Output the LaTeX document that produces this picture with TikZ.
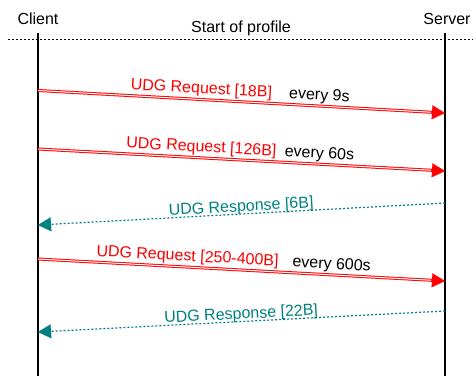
\documentclass[tikz,border=0pt]{standalone}
\usepackage{fontspec}
\setmainfont{Liberation Sans}
\usetikzlibrary{arrows.meta}
\definecolor{reqred}{RGB}{255,0,0}
\definecolor{resteal}{RGB}{0,128,128}
\begin{document}
\begin{tikzpicture}[x=1pt,y=-1pt, font=\fontsize{16}{19}\selectfont,
  life/.style={line width=1.3pt},
  profline/.style={line width=0.8pt, dash pattern=on 2pt off 2pt},
  reqwide/.style={draw=reqred, line width=3pt, -{Triangle[length=13pt,width=14pt,line width=0.1pt]}},
  reqgap/.style={draw=white, line width=1pt, shorten >=14pt, shorten <=0.5pt},
  resp/.style={draw=resteal, line width=1.2pt, dash pattern=on 2pt off 2pt, -{Triangle[length=13pt,width=14pt,line width=0.1pt]}},
  reqlbl/.style={text=reqred, sloped, anchor=base, inner sep=0pt, yshift=6pt},
  everylbl/.style={text=black, sloped, anchor=base, inner sep=0pt, yshift=6pt},
  resplbl/.style={text=resteal, sloped, anchor=base, inner sep=0pt, yshift=2.5pt}]
\useasboundingbox (0,0) rectangle (473,376);
% lifelines
\coordinate (ctop) at (38,33);
\coordinate (cbot) at (38,376);
\coordinate (stop) at (445,33);
\coordinate (sbot) at (445,376);
\coordinate (pl) at (8,39);
\coordinate (pr) at (473,39);
\node (client) at (38,19) {Client};
\node (server) at (447,19) {Server};
\node (start) at (241,28) {Start of profile};
\draw[profline] (pl) -- (pr);
\draw[life] (ctop) -- (cbot);
\draw[life] (stop) -- (sbot);
% message end points
\coordinate (c1) at (38,90.5);  \coordinate (s1) at (445,113);
\coordinate (c2) at (38,149);   \coordinate (s2) at (445,171);
\coordinate (s3) at (445,203);  \coordinate (c3) at (38,225);
\coordinate (c4) at (38,259);   \coordinate (s4) at (445,281);
\coordinate (s5) at (445,311);  \coordinate (c5) at (38,332);
% requests
\draw[reqwide] (c1) -- (s1);
\draw[reqgap] (c1) -- (s1);
\path (c1) -- (s1) node[reqlbl, pos=0.40] {UDG Request [18B]} node[everylbl, pos=0.69] {every 9s};
\draw[reqwide] (c2) -- (s2);
\draw[reqgap] (c2) -- (s2);
\path (c2) -- (s2) node[reqlbl, pos=0.40] {UDG Request [126B]} node[everylbl, pos=0.69] {every 60s};
\draw[reqwide] (c4) -- (s4);
\draw[reqgap] (c4) -- (s4);
\path (c4) -- (s4) node[reqlbl, pos=0.366] {UDG Request [250-400B]} node[everylbl, pos=0.72] {every 600s};
% responses
\draw[resp] (s3) -- (c3) node[resplbl, pos=0.5] {UDG Response [6B]};
\draw[resp] (s5) -- (c5) node[resplbl, pos=0.5] {UDG Response [22B]};
\end{tikzpicture}
\end{document}
